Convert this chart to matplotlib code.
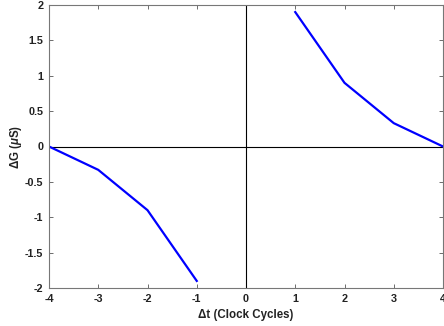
import matplotlib
matplotlib.use("Agg")
import matplotlib.pyplot as plt

x_pos = [1, 2, 3, 4]
y_pos = [1.9, 0.9, 0.33, 0.0]
x_neg = [-4, -3, -2, -1]
y_neg = [0.0, -0.33, -0.9, -1.9]
xticks = [-4, -3, -2, -1, 0, 1, 2, 3, 4]
yticks = [-2, -1.5, -1, -0.5, 0, 0.5, 1, 1.5, 2]

plt.rcParams['font.family'] = ['Liberation Sans', 'DejaVu Sans']
plt.rcParams['font.weight'] = 'bold'
plt.rcParams['mathtext.fontset'] = 'custom'
plt.rcParams['mathtext.rm'] = 'Liberation Sans:bold'
plt.rcParams['mathtext.it'] = 'Liberation Sans:italic:bold'
plt.rcParams['mathtext.default'] = 'rm'

fig = plt.figure(figsize=(4.44, 3.26), dpi=100)
ax = fig.add_axes([49/444, 1-288/326, (443-49)/444, (288-5)/326])

ax.axhline(0, color='black', lw=0.8)
ax.axvline(0, color='black', lw=0.8)
ax.plot(x_pos, y_pos, color='#0000ff', lw=1.6)
ax.plot(x_neg, y_neg, color='#0000ff', lw=1.6)

ax.set_xlim(-4, 4)
ax.set_ylim(-2, 2)
ax.set_xticks(xticks)
ax.set_yticks(yticks)
ax.set_xticklabels([f"{v:g}" for v in xticks])
ax.set_yticklabels([f"{v:g}" for v in yticks])
ax.tick_params(direction='in', top=True, right=True, length=3, width=0.6,
               colors='#555555', labelcolor='#222222', labelsize=7.8, pad=4)
for s in ax.spines.values():
    s.set_color('#777777')
    s.set_linewidth(0.8)

ax.set_xlabel("\u0394t (Clock Cycles)", fontsize=8.3, fontweight='bold', color='#222222', labelpad=4)
ax.set_ylabel("\u0394G ($\\mathit{\u03bc}$S)", fontsize=8.3, fontweight='bold', color='#222222', labelpad=1)

fig.savefig("out.png", dpi=100)
